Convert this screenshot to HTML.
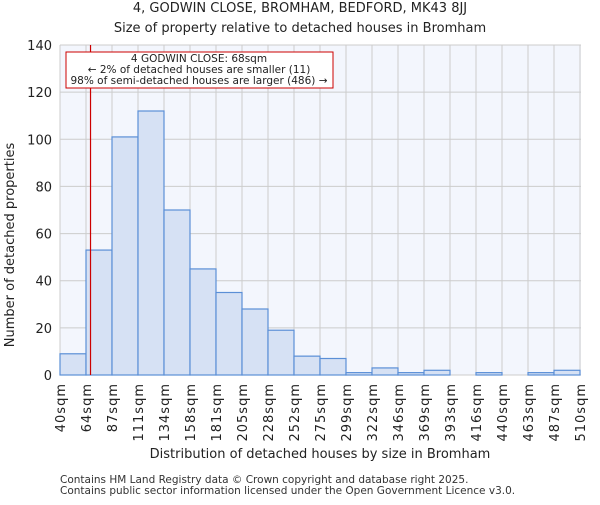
<!DOCTYPE html>
<html><head><meta charset="utf-8"><style>
body{margin:0;background:#fff;font-family:"Liberation Sans","DejaVu Sans",sans-serif;}
</style></head><body>
<svg width="600" height="500" viewBox="0 0 600 500" font-family="DejaVu Sans, Liberation Sans, sans-serif">
<text x="300" y="12" text-anchor="middle" font-size="13" fill="#222">4, GODWIN CLOSE, BROMHAM, BEDFORD, MK43 8JJ</text>
<text x="300" y="32" text-anchor="middle" font-size="13" fill="#222">Size of property relative to detached houses in Bromham</text>
<rect x="60" y="45" width="521" height="330" fill="#f3f6fd"/>
<g id="grid"></g>
<g id="bars"></g>
<g id="axes"></g>
<text transform="translate(14,245) rotate(-90)" text-anchor="middle" font-size="13" fill="#222">Number of detached properties</text>
<text x="320" y="458" text-anchor="middle" font-size="13" fill="#222">Distribution of detached houses by size in Bromham</text>
<text x="60" y="483" font-size="10.5" fill="#333">Contains HM Land Registry data © Crown copyright and database right 2025.</text>
<text x="60" y="494" font-size="10.5" fill="#333">Contains public sector information licensed under the Open Government Licence v3.0.</text>
<line id="marker" y1="45" y2="375" stroke="#cc0000" stroke-width="1.2"/>
<g>
<rect x="66" y="52" width="267" height="36" fill="#fff" stroke="#cc0000" stroke-width="1"/>
<text x="199" y="62" text-anchor="middle" font-size="10.5" fill="#222">4 GODWIN CLOSE: 68sqm</text>
<text x="199" y="73" text-anchor="middle" font-size="10.5" fill="#222">← 2% of detached houses are smaller (11)</text>
<text x="199" y="84" text-anchor="middle" font-size="10.5" fill="#222">98% of semi-detached houses are larger (486) →</text>
</g>
</svg>
<script>
const edges=[40,64,87,111,134,158,181,205,228,252,275,299,322,346,369,393,416,440,463,487,510];
const counts=[9,53,101,112,70,45,35,28,19,8,7,1,3,1,2,0,1,0,1,2];
const yTicks=[0,20,40,60,80,100,120,140];
const markerSize=68;
const X0=60,BW=26,Y0=375,YS=330/140;
const xIdx=i=>X0+i*BW;
const xVal=v=>{for(let i=0;i<edges.length-1;i++){if(v<=edges[i+1])return xIdx(i)+(v-edges[i])/(edges[i+1]-edges[i])*BW;}return xIdx(edges.length-1);};
const y=v=>Y0-v*YS;
const ns="http://www.w3.org/2000/svg";
const grid=document.getElementById('grid'),bars=document.getElementById('bars'),axes=document.getElementById('axes');
function mk(t,a,p){const e=document.createElementNS(ns,t);for(const k in a)e.setAttribute(k,a[k]);p.appendChild(e);return e;}
yTicks.forEach(t=>{
 const g=mk('line',{x1:60,x2:581,y1:y(t),y2:y(t),stroke:'#cccccc','stroke-width':1},grid);
 
 
 const l=mk('text',{x:52,y:y(t)+5,'text-anchor':'end','font-size':13,fill:'#222'},axes);
 l.textContent=t;
 
 
});
edges.forEach((e,i)=>{
 const g=mk('line',{x1:xIdx(i),x2:xIdx(i),y1:45,y2:375,stroke:'#cccccc','stroke-width':1},grid);
 
 
 const l=mk('text',{transform:`translate(${xIdx(i)+5},383) rotate(-90)`,'text-anchor':'end','font-size':13,'letter-spacing':'1',fill:'#222'},axes);
 l.textContent=e+'sqm';
 
 
});
counts.forEach((c,i)=>{
 if(c<=0)return;
 const r=mk('rect',{x:xIdx(i),y:y(c),width:BW,height:c*YS,fill:'#d6e1f4',stroke:'#5b8fd6','stroke-width':1.2},bars);
 
 
});
const m=document.getElementById('marker');m.setAttribute('x1',xVal(markerSize));m.setAttribute('x2',xVal(markerSize));
</script>
</body></html>
